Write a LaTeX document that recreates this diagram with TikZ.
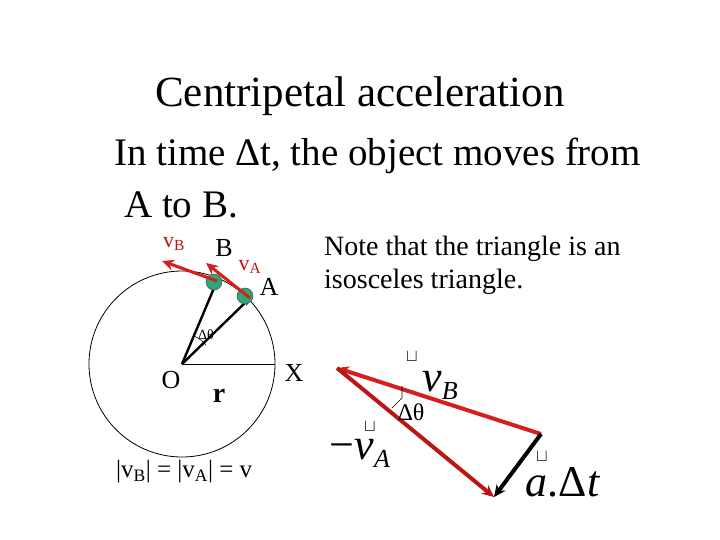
\documentclass[tikz,border=0pt]{standalone}
\usepackage{fontspec}
\setmainfont{Liberation Serif}
\usetikzlibrary{arrows.meta}
\definecolor{vred}{RGB}{215,30,30}
\definecolor{dred}{RGB}{190,20,20}
\definecolor{blob}{RGB}{40,170,120}
\begin{document}
\begin{tikzpicture}[x=1pt,y=-1pt,
  vec/.style={line width=4pt,-{Stealth[length=12pt,width=11pt]}},
  rad/.style={line width=2.4pt,black,-{Stealth[length=8pt,width=7pt]}},
  lbl/.style={inner sep=0pt}]
\useasboundingbox (0,0) rectangle (720,540);
\node[lbl,font=\fontsize{43}{43}\selectfont] (title) at (360,96) {Centripetal acceleration};
\node[lbl,anchor=west,font=\fontsize{39}{39}\selectfont] (l1) at (114,156) {In time Δt, the object moves from};
\node[lbl,anchor=west,font=\fontsize{39}{39}\selectfont] (l2) at (124,205) {A to B.};
\node[lbl,anchor=west,font=\fontsize{28}{33}\selectfont,align=left] (note) at (324,265) {Note that the triangle is an\\isosceles triangle.};
% circle
\coordinate (O) at (182,364);
\draw[black,line width=0.8pt] (O) circle (93);
\coordinate (B) at (217,281);
\coordinate (A) at (250,298);
\coordinate (Xp) at (275,364);
\draw[black,line width=1pt] (O) -- (Xp);
\draw[rad] (O) -- (B);
\draw[rad] (O) -- (A);
\draw[black,line width=0.5pt] (194,336) arc[start angle=-67,end angle=-38,radius=30];
\fill[blob,draw=black!70,line width=0.5pt] (214,282) circle (8);
\fill[blob,draw=black!70,line width=0.5pt] (245,296) circle (8);
\coordinate (vBend) at (162,261);
\coordinate (vAend) at (206,263);
\draw[vec,vred,line width=3pt] (B) -- (vBend);
\draw[vec,vred,line width=3pt] (A) -- (vAend);
\node[lbl,font=\fontsize{14}{14}\selectfont] (dth1) at (206,335) {Δθ};
\node[lbl,font=\fontsize{26}{26}\selectfont] (Ol) at (171,380) {O};
\node[lbl,font=\fontsize{28}{28}\selectfont\bfseries] (rl) at (219,396) {r};
\node[lbl,font=\fontsize{26}{26}\selectfont] (Xl) at (294,373) {X};
\node[lbl,font=\fontsize{26}{26}\selectfont] (Bl) at (224,248) {B};
\node[lbl,font=\fontsize{26}{26}\selectfont] (Al) at (269,287) {A};
\node[lbl,font=\fontsize{22}{22}\selectfont,text=dred] (vBl) at (174,244) {v\textsubscript{B}};
\node[lbl,font=\fontsize{22}{22}\selectfont,text=dred] (vAl) at (250,267) {v\textsubscript{A}};
\node[lbl,anchor=west,font=\fontsize{25}{25}\selectfont] (eq) at (116,472) {|v\textsubscript{B}| = |v\textsubscript{A}| = v};
% triangle
\coordinate (P) at (337,368);
\coordinate (Q) at (541,434);
\coordinate (R) at (494,497);
\draw[vec,vred] (Q) -- (P);
\draw[vec,dred] (P) -- (R);
\draw[vec,black] (Q) -- (R);
\draw[black,line width=0.6pt] (402,386) -- (402,398) -- (392,408);
\node[lbl,font=\fontsize{24}{24}\selectfont] (dth2) at (411,412) {Δθ};
\node[lbl,font=\fontsize{44}{44}\selectfont] (vBt) at (440,385) {\textit{v}\raisebox{-8pt}{\fontsize{26}{26}\selectfont\textit{B}}};
\node[lbl,font=\fontsize{44}{44}\selectfont] (vAt) at (360,453) {−\textit{v}\raisebox{-8pt}{\fontsize{26}{26}\selectfont\textit{A}}};
\node[lbl,font=\fontsize{44}{44}\selectfont] (at) at (563,482) {\textit{a}.Δ\textit{t}};
\node[lbl,font=\fontsize{16}{16}\selectfont] (u1) at (412,357) {$\sqcup$};
\node[lbl,font=\fontsize{16}{16}\selectfont] (u2) at (370,427) {$\sqcup$};
\node[lbl,font=\fontsize{16}{16}\selectfont] (u3) at (542,457) {$\sqcup$};
\end{tikzpicture}
\end{document}
